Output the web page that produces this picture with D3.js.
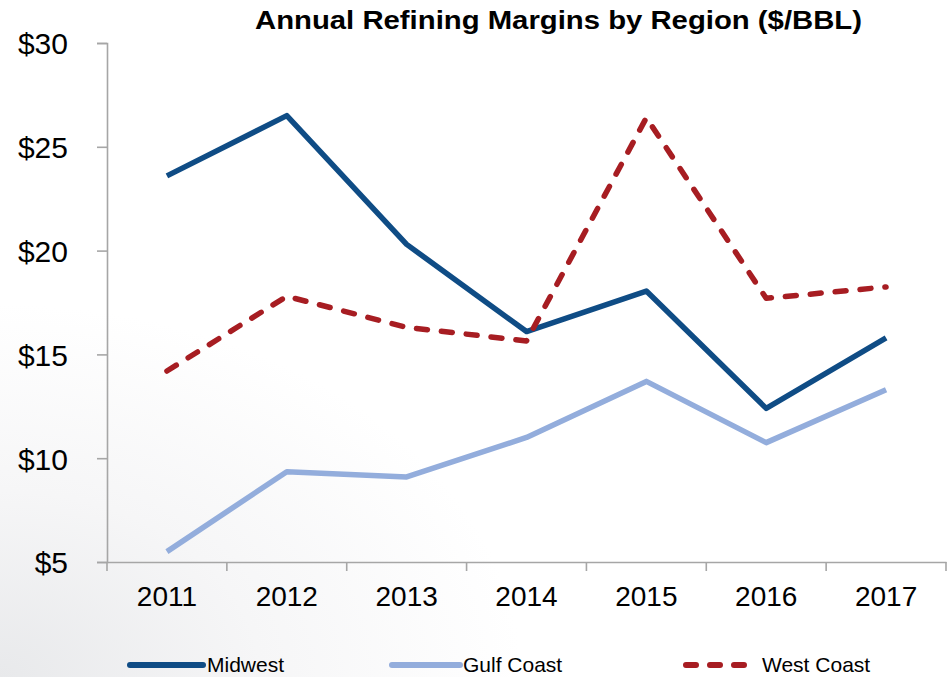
<!DOCTYPE html>
<html><head><meta charset="utf-8">
<script src="https://cdn.jsdelivr.net/npm/d3@7"></script>
<style>body{margin:0;background:#fff}svg{display:block;font-family:Arial,"Liberation Sans",sans-serif}</style>
</head><body>
<svg id="c" width="948" height="677"></svg>
<script>
const years = ["2011","2012","2013","2014","2015","2016","2017"];
const midwest = [23.6, 26.5, 20.3, 16.1, 18.05, 12.4, 15.8];
const gulfCoast = [5.5, 9.35, 9.1, 11.0, 13.7, 10.75, 13.3];
const westCoast = [14.2, 17.8, 16.3, 15.65, 26.4, 17.7, 18.25];
const yTicks = [5, 10, 15, 20, 25, 30];
const seriesNames = ["Midwest", "Gulf Coast", "West Coast"];

const series = [
  {name: seriesNames[0], values: midwest, color: "#0f4c85", dash: null},
  {name: seriesNames[1], values: gulfCoast, color: "#93addc", dash: null},
  {name: seriesNames[2], values: westCoast, color: "#a71d22", dash: "11,14"}
];

const svg = d3.select("#c");
const defs = svg.append("defs");
const g1 = defs.append("radialGradient").attr("id","bg").attr("cx","0").attr("cy","1").attr("r","0.55");
g1.append("stop").attr("offset","0").attr("stop-color","#e8e9eb");
g1.append("stop").attr("offset","0.5").attr("stop-color","#f6f6f7");
g1.append("stop").attr("offset","1").attr("stop-color","#ffffff");
svg.append("rect").attr("width",948).attr("height",677).attr("fill","url(#bg)");

const x = d3.scaleBand().domain(years).range([107, 946]);
const y = d3.scaleLinear().domain([5, 30]).range([562, 43]);

// axes
const yAxis = svg.append("g").attr("transform","translate(107,0)")
  .call(d3.axisLeft(y).tickValues(yTicks).tickSize(10).tickPadding(29).tickFormat(d => "$" + d));
const xAxis = svg.append("g").attr("transform","translate(0,562)")
  .call(d3.axisBottom(x).tickSize(0).tickPadding(24));
[yAxis, xAxis].forEach(a => {
  a.select(".domain").attr("stroke","#a6a6a6").attr("stroke-width",1.6);
  a.selectAll(".tick line").attr("stroke","#a6a6a6").attr("stroke-width",1.6);
  a.selectAll("text").attr("fill","#000").style("font-family","Arial, 'Liberation Sans', sans-serif");
});
yAxis.selectAll("text").attr("dy","0.36em").style("font-size","30px");
xAxis.selectAll("text").style("font-size","28px");
// x boundary ticks
const bounds = years.map(d => x(d)).concat([x(years[years.length-1]) + x.bandwidth()]);
svg.append("g").selectAll("line").data(bounds).join("line")
  .attr("x1", d => d).attr("x2", d => d).attr("y1", 562).attr("y2", 571)
  .attr("stroke","#a6a6a6").attr("stroke-width",1.6);

// lines
const line = d3.line().x((d,i) => x(years[i]) + x.bandwidth()/2).y(d => y(d));
svg.append("g").selectAll("path").data(series).join("path")
  .attr("d", d => line(d.values))
  .attr("fill","none")
  .attr("stroke", d => d.color)
  .attr("stroke-width", 5.5)
  .attr("stroke-linejoin","round")
  .attr("stroke-linecap", d => d.dash ? "round" : "butt")
  .attr("stroke-dasharray", d => d.dash);

// title
svg.append("text").attr("x", 255).attr("y", 29)
  .attr("textLength", 607).attr("lengthAdjust","spacingAndGlyphs")
  .style("font-size","26px").style("font-weight","bold").text("Annual Refining Margins by Region ($/BBL)");

// legend
const legLine = [[130, 203], [392, 460], [686, 748]];
const legText = [207, 463, 762];
const leg = svg.append("g").selectAll("g").data(series).join("g");
leg.append("line").attr("x1",(d,i) => legLine[i][0]).attr("x2",(d,i) => legLine[i][1])
  .attr("y1",665).attr("y2",665)
  .attr("stroke", d => d.color).attr("stroke-width",6)
  .attr("stroke-linecap","round")
  .attr("stroke-dasharray", d => d.dash ? "10,14" : null);
leg.append("text").attr("x",(d,i) => legText[i]).attr("y",672).style("font-size","21px").text(d => d.name);
</script>
</body></html>
